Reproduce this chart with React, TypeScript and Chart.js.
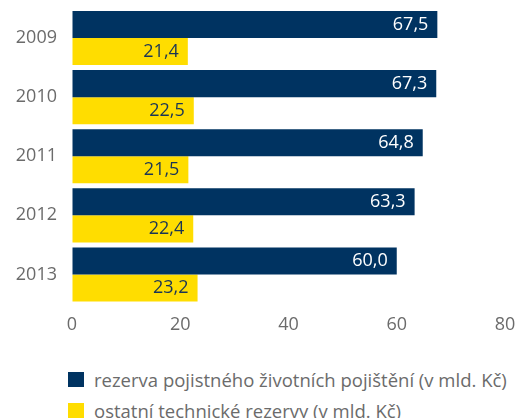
import React, { useEffect, useRef } from "react";
import { Chart, registerables } from "chart.js";

Chart.register(...registerables);

const categories = ["2009", "2010", "2011", "2012", "2013"];
const lifeReserve = [67.5, 67.3, 64.8, 63.3, 60.0];
const otherReserve = [21.4, 22.5, 21.5, 22.4, 23.2];
const seriesNames = [
  "rezerva pojistného životních pojištění (v mld. Kč)",
  "ostatní technické rezervy (v mld. Kč)",
];
const xTicks = [0, 20, 40, 60, 80];

const NAVY = "#003361";
const YELLOW = "#FFDD00";
const GREY = "#6b6b6b";
const FONT = "'Open Sans', 'Noto Sans', sans-serif";

const valueLabels = {
  id: "valueLabels",
  afterDatasetsDraw(chart: any) {
    const ctx = chart.ctx;
    ctx.save();
    ctx.font = `18px ${FONT}`;
    ctx.textAlign = "right";
    ctx.textBaseline = "middle";
    chart.data.datasets.forEach((ds: any, i: number) => {
      const meta = chart.getDatasetMeta(i);
      meta.data.forEach((bar: any, j: number) => {
        const v = ds.data[j] as number;
        ctx.fillStyle = i === 0 ? "#ffffff" : "#1a3556";
        ctx.fillText(v.toFixed(1).replace(".", ","), bar.x - 9, bar.y);
      });
    });
    ctx.restore();
  },
};

export default function App() {
  const ref = useRef<HTMLCanvasElement>(null);
  useEffect(() => {
    if (!ref.current) return;
    const chart = new Chart(ref.current, {
      type: "bar",
      data: {
        labels: categories,
        datasets: [
          { label: seriesNames[0], data: lifeReserve, backgroundColor: NAVY },
          { label: seriesNames[1], data: otherReserve, backgroundColor: YELLOW },
        ],
      },
      options: {
        indexAxis: "y",
        animation: false,
        responsive: false,
        maintainAspectRatio: false,
        layout: { padding: { left: 0, right: 13, top: 8.5, bottom: 0 } },
        datasets: { bar: { categoryPercentage: 0.915, barPercentage: 1 } },
        plugins: { legend: { display: false }, tooltip: { enabled: false } },
        scales: {
          x: {
            min: 0,
            max: 80,
            afterBuildTicks: (s: any) => {
              s.ticks = xTicks.map((v) => ({ value: v }));
            },
            afterFit: (s: any) => {
              s.height = 37;
            },
            grid: { display: true, color: "rgba(0,0,0,0)", drawTicks: true, tickLength: 10 },
            border: { display: false },
            ticks: { padding: 0, color: GREY, font: { family: FONT, size: 18 } },
          },
          y: {
            afterFit: (s: any) => {
              s.width = 72;
            },
            grid: { display: true, color: "rgba(0,0,0,0)", drawTicks: true, tickLength: 15 },
            border: { display: false },
            ticks: { padding: 0, color: GREY, font: { family: FONT, size: 18, lineHeight: 0.9 } },
          },
        },
      },
      plugins: [valueLabels],
    } as any);
    return () => chart.destroy();
  }, []);

  const colors = [NAVY, YELLOW];
  return (
    <div style={{ position: "fixed", left: 0, top: 0, width: 518, height: 418, background: "#fff", overflow: "hidden" }}>
      <canvas ref={ref} width={518} height={341} style={{ display: "block", width: 518, height: 341 }} />
      <div style={{ position: "absolute", left: 68, top: 364, fontFamily: FONT, fontSize: 18.5, color: GREY }}>
        {seriesNames.map((n, i) => (
          <div key={n} style={{ display: "flex", alignItems: "center", height: 31, whiteSpace: "nowrap" }}>
            <span style={{ display: "inline-block", width: 15.5, height: 15.5, background: colors[i], marginRight: 10.5, flex: "none" }} />
            <span>{n}</span>
          </div>
        ))}
      </div>
    </div>
  );
}
